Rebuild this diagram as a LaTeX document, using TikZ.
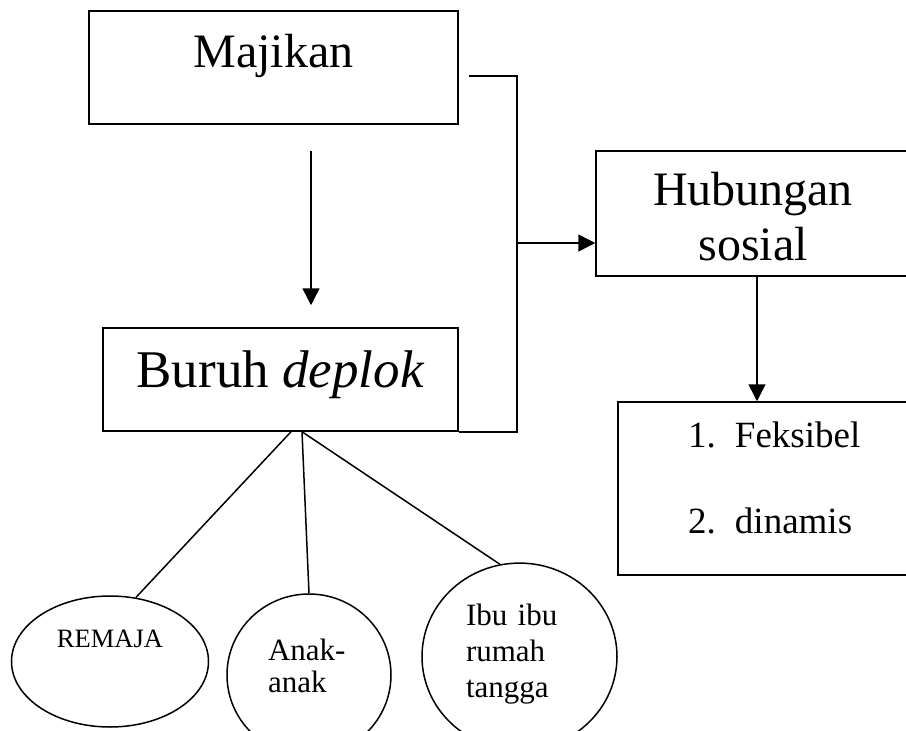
\documentclass[tikz,border=0pt]{standalone}
\usepackage{fontspec}
\setmainfont{Liberation Serif}
\usetikzlibrary{shapes.geometric,arrows.meta}

\begin{document}
\begin{tikzpicture}[
        x=1pt, y=-1pt,
        box/.style={rectangle, draw, line width=1.5pt, inner sep=0pt},
        oval/.style={ellipse, draw, line width=1.5pt, inner sep=0pt},
        line/.style={draw, line width=1.5pt},
        arrow/.style={line, -{Triangle[length=17pt,width=17pt]}},
    ]
    \useasboundingbox (0,0) rectangle (906,731);

    \node[box, minimum width=369pt, text height=56pt, text depth=57pt,
        font=\fontsize{48}{55}\selectfont] (majikan) at (273.5,67.5) {Majikan};
    \node[box, minimum width=355pt, text height=59pt, text depth=44pt,
        font=\fontsize{53}{60}\selectfont] (buruh) at (280.5,379.5) {Buruh \textit{deplok}};
    \node[box, minimum width=314pt, text width=200pt, align=center, text height=54pt, text depth=71pt,
        font=\fontsize{48}{55}\selectfont] (hubungan) at (753,213.5) {Hubungan\\sosial};
    \node[box, minimum width=312pt, text width=172pt, align=left, text height=45pt, text depth=128pt,
        font=\fontsize{37}{86}\selectfont] (daftar) at (774,488.5)
        {\makebox[47pt][l]{1.}Feksibel\\\makebox[47pt][l]{2.}dinamis};

    \node[oval, minimum width=197pt, minimum height=131pt, text height=10pt, text depth=39pt,
        font=\fontsize{26.5}{30}\selectfont] (remaja) at (110,661.5) {REMAJA};
    \node[oval, minimum width=164pt, minimum height=162pt, text width=82pt, align=left,
        text height=20pt, text depth=50pt,
        font=\fontsize{31}{32}\selectfont] (anak) at (309,675) {Anak-\\anak};
    \node[oval, minimum width=195pt, minimum height=187pt, text width=107pt, align=left,
        text height=20pt, text depth=83pt,
        font=\fontsize{31}{36}\selectfont] (ibu) at (519.5,656.6) {Ibu ibu\\rumah\\tangga};

    \coordinate (junction) at (516,243);

    \draw[arrow, shorten <=26pt, shorten >=22pt]
        ([xshift=37.5pt]majikan.south) -- ([xshift=37.5pt]majikan.south |- buruh.north);
    \draw[line] ([xshift=10pt,yshift=-8.5pt]majikan.east) -- ++(48,0) |- (buruh.south east);
    \draw[arrow] (junction) -- (junction -| hubungan.west);
    \draw[arrow] ([xshift=4pt]hubungan.south) -- ([xshift=4pt]hubungan.south |- daftar.north);

    \path
    ([xshift=10.5pt]buruh.south) edge[line] (remaja.68)
    ([xshift=21.5pt]buruh.south) edge[line] (anak.north)
                                 edge[line] (ibu.102)
    ;
\end{tikzpicture}
\end{document}
